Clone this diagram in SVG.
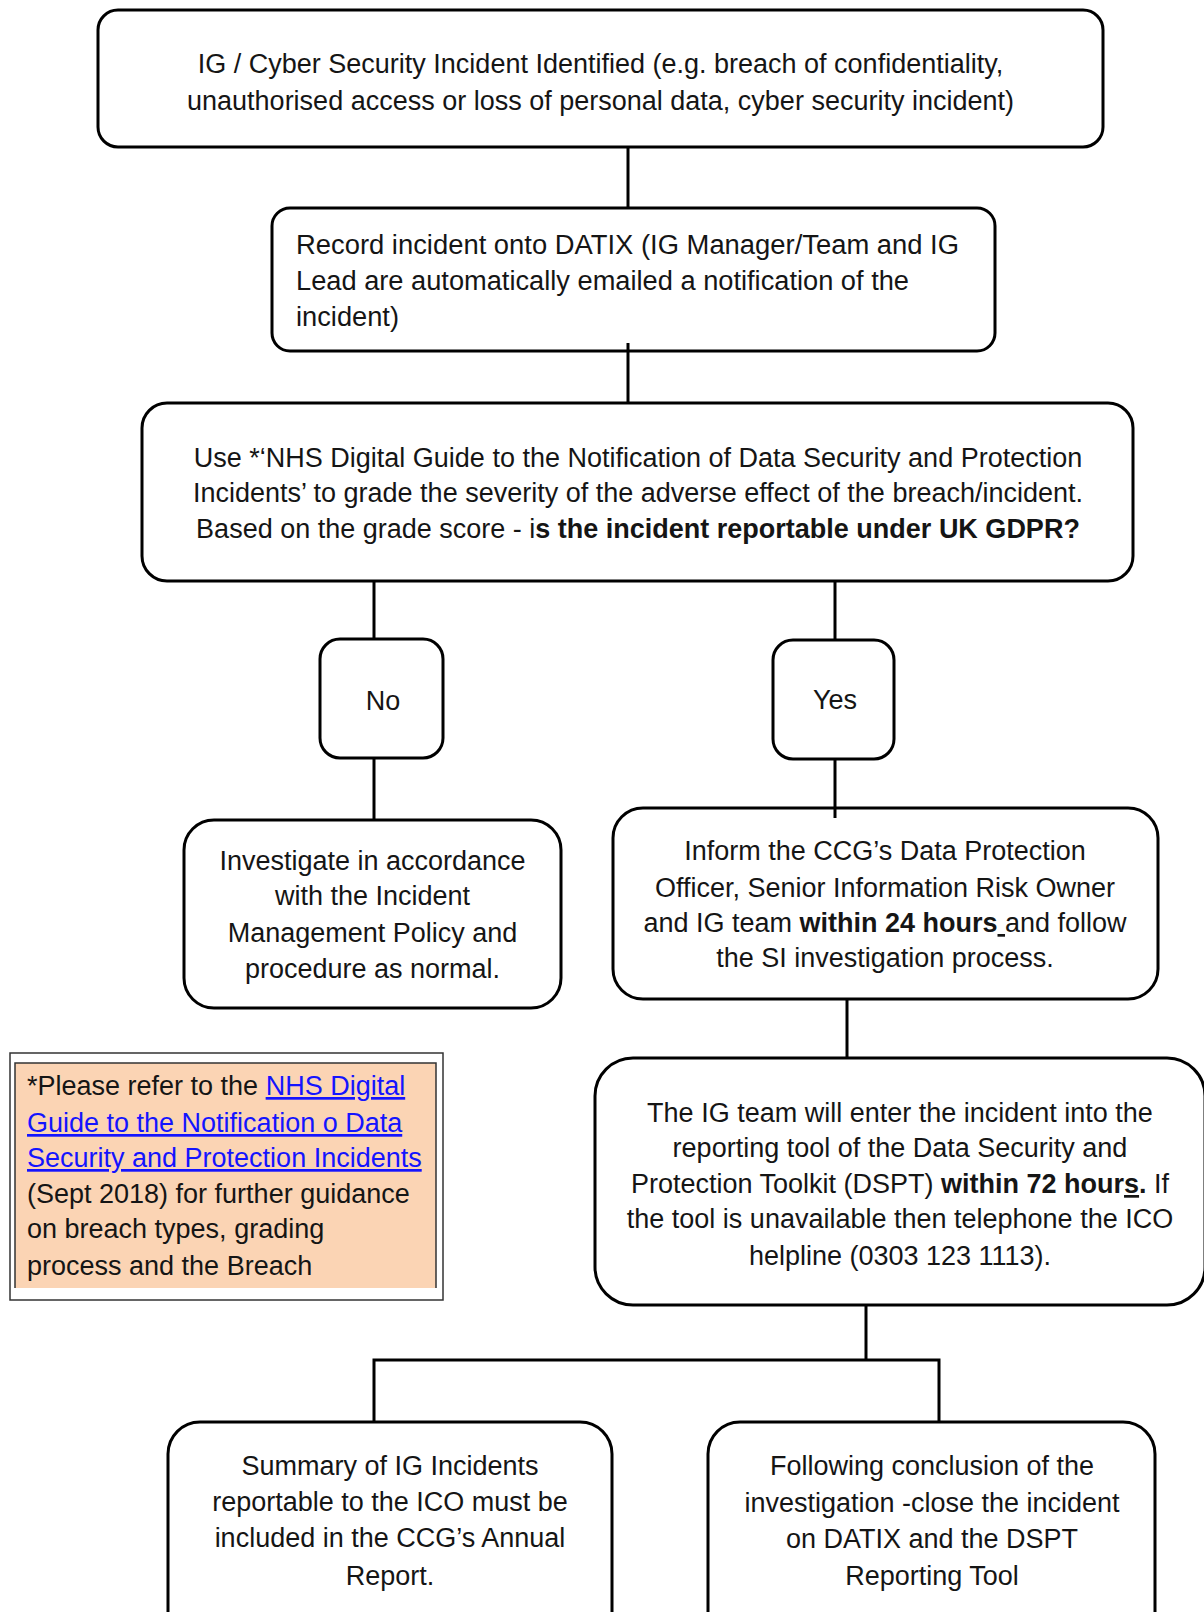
<svg xmlns="http://www.w3.org/2000/svg" width="1204" height="1612" viewBox="0 0 1204 1612">
<style>
.box{fill:#fff;stroke:#000;stroke-width:3}
.t{font-family:"Liberation Sans",Arial,sans-serif;font-size:27px;fill:#151515}
.m{text-anchor:middle}
.b{font-weight:bold}
.u{text-decoration:underline}
.lnk{fill:#1414ff;text-decoration:underline}
.c{stroke:#000;stroke-width:3;fill:none}
</style>
<rect width="1204" height="1612" fill="#fff"/>
<g id="n1">
<rect class="box" x="98" y="10" width="1005" height="137" rx="20"/>
<text class="t m" x="600.5" y="73">IG / Cyber Security Incident Identified (e.g. breach of confidentiality,</text>
<text class="t m" x="600.5" y="110">unauthorised access or loss of personal data, cyber security incident)</text>
</g>
<g id="n2">
<rect class="box" x="272" y="208" width="723" height="143" rx="18"/>
<text class="t" x="296" y="254" textLength="663" lengthAdjust="spacingAndGlyphs">Record incident onto DATIX (IG Manager/Team and IG</text>
<text class="t" x="296" y="290" textLength="613" lengthAdjust="spacingAndGlyphs">Lead are automatically emailed a notification of the</text>
<text class="t" x="296" y="326" textLength="103" lengthAdjust="spacingAndGlyphs">incident)</text>
</g>
<g id="n3">
<rect class="box" x="142" y="403" width="991" height="178" rx="25"/>
<text class="t m" x="638" y="467">Use *‘NHS Digital Guide to the Notification of Data Security and Protection</text>
<text class="t m" x="638" y="502">Incidents’ to grade the severity of the adverse effect of the breach/incident.</text>
<text class="t m" x="638" y="538">Based on the grade score - i<tspan class="b">s the incident reportable under UK GDPR?</tspan></text>
</g>
<g id="no">
<rect class="box" x="320" y="639" width="123" height="119" rx="20"/>
<text class="t m" x="383" y="710">No</text>
</g>
<g id="yes">
<rect class="box" x="773" y="640" width="121" height="119" rx="20"/>
<text class="t m" x="835" y="709">Yes</text>
</g>
<g id="investigate">
<rect class="box" x="184" y="820" width="377" height="188" rx="30"/>
<text class="t m" x="372.5" y="870">Investigate in accordance</text>
<text class="t m" x="372.5" y="905">with the Incident</text>
<text class="t m" x="372.5" y="942">Management Policy and</text>
<text class="t m" x="372.5" y="978">procedure as normal.</text>
</g>
<g id="inform">
<rect class="box" x="613" y="808" width="545" height="191" rx="30"/>
<text class="t m" x="885" y="860">Inform the CCG’s Data Protection</text>
<text class="t m" x="885" y="897">Officer, Senior Information Risk Owner</text>
<text class="t m" x="885" y="932">and IG team <tspan class="b">within 24 hours</tspan><tspan class="u"> </tspan>and follow</text>
<text class="t m" x="885" y="967">the SI investigation process.</text>
</g>
<g id="note">
<rect x="10" y="1053" width="433" height="247" fill="#fff" stroke="#333" stroke-width="1.5"/>
<rect x="15" y="1063" width="421" height="225" fill="#fbd4b4"/>
<path d="M15,1288 V1063 H436 V1288" fill="none" stroke="#333" stroke-width="1.5"/>
<text class="t" x="27" y="1095">*Please refer to the <tspan class="lnk">NHS Digital</tspan></text>
<text class="t lnk" x="27" y="1132">Guide to the Notification o Data</text>
<text class="t lnk" x="27" y="1167">Security and Protection Incidents</text>
<text class="t" x="27" y="1203">(Sept 2018) for further guidance</text>
<text class="t" x="27" y="1238">on breach types, grading</text>
<text class="t" x="27" y="1275">process and the Breach</text>
</g>
<g id="dspt">
<rect class="box" x="595" y="1058" width="610" height="247" rx="38"/>
<text class="t m" x="900" y="1122">The IG team will enter the incident into the</text>
<text class="t m" x="900" y="1157">reporting tool of the Data Security and</text>
<text class="t m" x="900" y="1193">Protection Toolkit (DSPT) <tspan class="b">within 72 hour</tspan><tspan class="b u">s</tspan><tspan class="b">.</tspan> If</text>
<text class="t m" x="900" y="1228">the tool is unavailable then telephone the ICO</text>
<text class="t m" x="900" y="1265">helpline (0303 123 1113).</text>
</g>
<g id="summary">
<rect class="box" x="168" y="1422" width="444" height="230" rx="32"/>
<text class="t m" x="390" y="1475">Summary of IG Incidents</text>
<text class="t m" x="390" y="1511">reportable to the ICO must be</text>
<text class="t m" x="390" y="1547">included in the CCG’s Annual</text>
<text class="t m" x="390" y="1585">Report.</text>
</g>
<g id="close">
<rect class="box" x="708" y="1422" width="447" height="230" rx="32"/>
<text class="t m" x="932" y="1475">Following conclusion of the</text>
<text class="t m" x="932" y="1512">investigation -close the incident</text>
<text class="t m" x="932" y="1548">on DATIX and the DSPT</text>
<text class="t m" x="932" y="1585">Reporting Tool</text>
</g>
<g id="connectors">
<path class="c" d="M628,147 V208"/>
<path class="c" d="M628,343 V403"/>
<path class="c" d="M374,581 V639"/>
<path class="c" d="M835,581 V640"/>
<path class="c" d="M374,758 V820"/>
<path class="c" d="M835,759 V818"/>
<path class="c" d="M847,999 V1058"/>
<path class="c" d="M866,1305 V1360"/>
<path class="c" d="M374,1422 V1360 H939 V1422"/>
</g>
</svg>
